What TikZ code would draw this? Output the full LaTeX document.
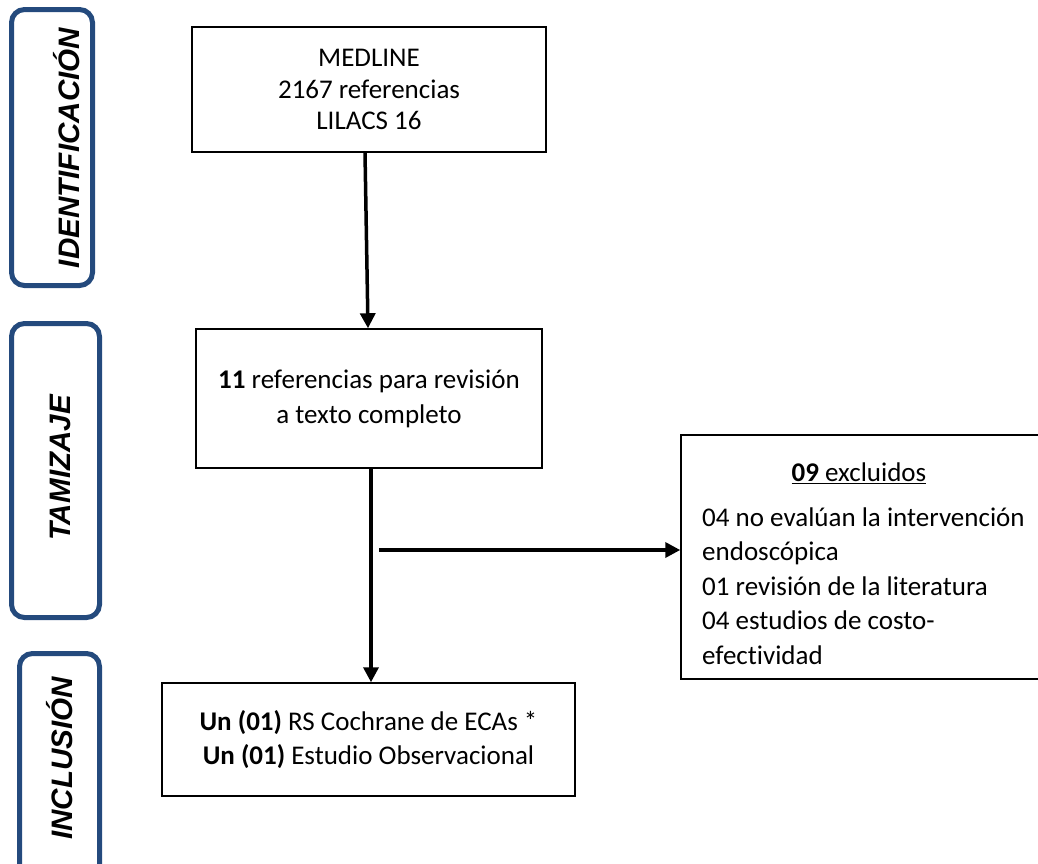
\documentclass[tikz,border=0pt]{standalone}
\usepackage{fontspec}
\setmainfont[Ligatures=NoCommon]{Carlito}
\newfontfamily\labfont{Liberation Sans}
\usetikzlibrary{arrows.meta}
\definecolor{labblue}{HTML}{244A7D}
\begin{document}
\begin{tikzpicture}[x=1pt,y=-1pt,
  flowbox/.style={draw=black, line width=1.5pt, inner sep=0pt, align=center},
  phasebox/.style={draw=labblue, line width=5pt, rounded corners=13pt, inner sep=0pt},
  phaselabel/.style={rotate=90, anchor=base, inner sep=0pt,
    font=\labfont\bfseries\itshape\fontsize{29.6}{32}\selectfont},
  flowarrow/.style={line width=3.5pt, -{Triangle[length=15pt,width=15pt]}},
  plain/.style={inner sep=0pt}]
\useasboundingbox (0,0) rectangle (1038,863);
\clip (0,0) rectangle (1038,863);

% phase boxes
\node[phasebox, minimum width=81pt, minimum height=276pt] (idbox) at (52,147.5) {};
\node[phasebox, minimum width=88pt, minimum height=294pt] (tambox) at (55.5,470.5) {};
\node[phasebox, minimum width=80pt, minimum height=246.5pt] (incbox) at (59.5,776.75) {};
\node[phaselabel] (idlab) at (79,148) {IDENTIFICACIÓN};
\node[phaselabel] (tamlab) at (70,468) {TAMIZAJE};
\node[phaselabel] (inclab) at (72,758.5) {INCLUSIÓN};

% flow boxes
\node[flowbox, minimum width=354pt, minimum height=125pt,
  font=\fontsize{27}{31.7}\selectfont] (med) at (369,89.5)
  {MEDLINE\\2167 referencias\\LILACS 16};
\node[flowbox, minimum width=346pt, minimum height=139pt,
  font=\fontsize{27}{35}\selectfont] (ref) at (369,398.5)
  {\textbf{11} referencias para revisión\\a texto completo};
\node[flowbox, minimum width=413pt, minimum height=113pt,
  font=\fontsize{27}{34}\selectfont] (inc) at (368.5,739.5)
  {\textbf{Un (01)} RS Cochrane de ECAs *\\\textbf{Un (01)} Estudio Observacional};
\node[flowbox, minimum width=364pt, minimum height=244pt] (excl) at (863,557) {};
\node[plain, font=\fontsize{27}{34.5}\selectfont] (extitle) at (859,473)
  {\underline{\textbf{09} excluidos}};
\node[plain, anchor=west, align=left, font=\fontsize{27}{34.5}\selectfont] (exlist) at (702,586)
  {04 no evalúan la intervención\\endoscópica\\01 revisión de la literatura\\04 estudios de costo-\\efectividad};

% connectors
\path (med.south) ++(-4,0) coordinate (a1s);
\path (ref.north) ++(-1,0) coordinate (a1e);
\draw[flowarrow] (a1s) -- (a1e);
\path (ref.south) ++(2,0) coordinate (a2s);
\draw[flowarrow] (a2s) -- (a2s |- inc.north);
\coordinate (hs) at (379,550);
\draw[flowarrow] (hs) -- (hs -| excl.west);
\end{tikzpicture}
\end{document}
